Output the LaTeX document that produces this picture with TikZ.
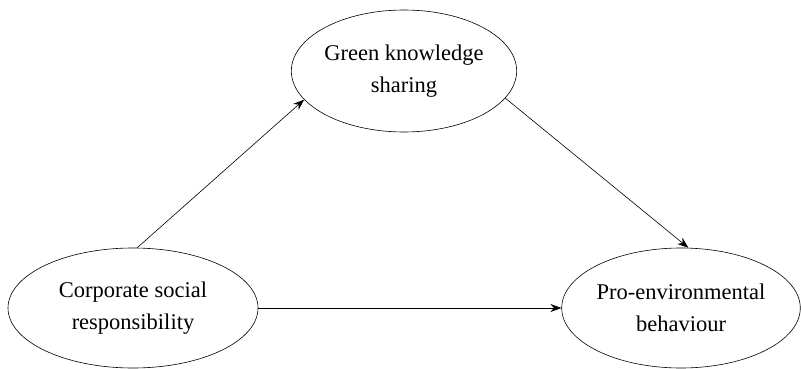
\documentclass[tikz,border=0pt]{standalone}
\usepackage{fontspec}
\setmainfont{Liberation Serif}
\usetikzlibrary{shapes.geometric,arrows.meta}

\begin{document}
\begin{tikzpicture}[x=1pt,y=-1pt,
	construct/.style={ellipse,draw,line width=0.6pt,inner sep=0pt,align=center,
		font=\fontsize{22.5}{32}\selectfont},
	link/.style={-{Stealth[length=11pt,width=8pt]},line width=0.6pt}]
	\useasboundingbox (0,0) rectangle (801,369);

	\node[construct,minimum width=224pt,minimum height=122pt] (gks) at (404,71) {Green knowledge\\sharing};
	\node[construct,minimum width=250pt,minimum height=120pt] (csr) at (133,308) {Corporate social\\responsibility};
	\node[construct,minimum width=238pt,minimum height=120pt] (peb) at (681,308) {Pro-environmental\\behaviour};

	\draw[link] (csr.86) -- (gks.196);
	\draw[link] (gks.345) -- (peb.83);
	\draw[link] (csr) -- (peb);

\end{tikzpicture}
\end{document}
